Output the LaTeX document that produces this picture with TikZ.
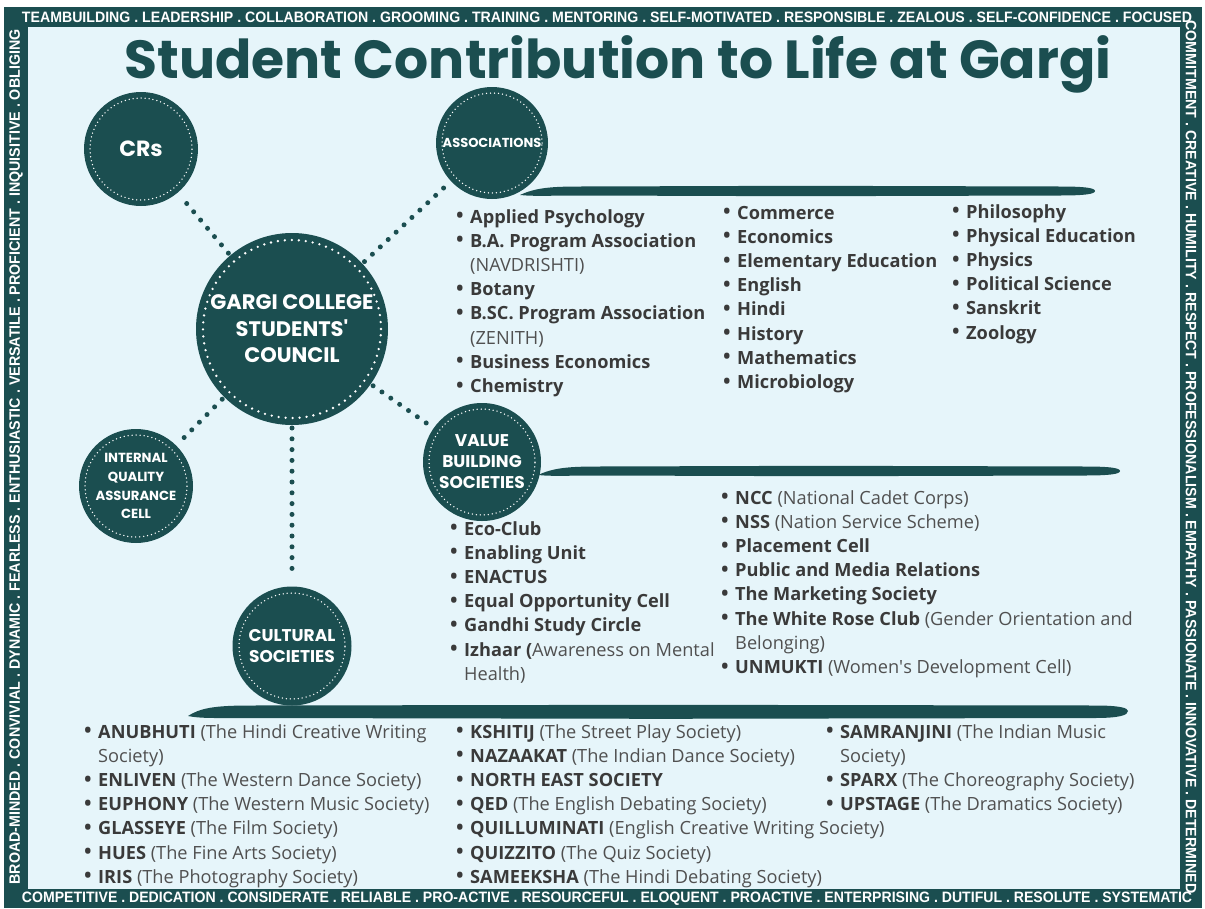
\documentclass[tikz,border=0pt]{standalone}
\usepackage{fontspec}
\setmainfont{Open Sans}
\newfontfamily\headfont{Poppins}
\newfontfamily\bandfont{Liberation Sans}

\definecolor{gteal}{RGB}{27,78,80}
\definecolor{bgl}{RGB}{230,245,250}
\definecolor{txtd}{RGB}{58,58,58}
\definecolor{txtl}{RGB}{80,80,80}

\newcommand\gnm[1]{{\bfseries\color{txtd}#1}}
\newcommand\gds[1]{{\color{txtl}#1}}
\newcommand\gbul{\makebox[15pt][l]{\color{txtd}\raisebox{-0.09em}{\scalebox{1.4}{•}}}}

\begin{document}
\begin{tikzpicture}[x=1pt,y=-1pt,
  hub/.style={circle, fill=gteal, inner sep=0pt, outer sep=0pt, text=white, align=center},
  link/.style={gteal, line width=5pt, line cap=round, dash pattern=on 0pt off 10.8pt, shorten <=3pt, shorten >=8pt},
  ring/.style={white, line width=1.5pt, line cap=round, dash pattern=on 0pt off 4pt},
  bigring/.style={white, line width=2.6pt, line cap=round, dash pattern=on 0pt off 7pt},
  brush/.style={fill=gteal},
  band/.style={text=white, inner sep=0pt, font=\bandfont\bfseries},
  lst/.style={anchor=base west, inner sep=0pt, font=\fontsize{18.2}{24.2}\selectfont}]

\useasboundingbox (0,0) rectangle (1205,908);
\fill[white] (0,0) rectangle (1205,908);
\fill[gteal] (4,7) rectangle (1202,908);
\fill[bgl] (28,27) rectangle (1180,889);

% border words
\node[band] (topband) at (607,17.5) {\resizebox{1170pt}{10.5pt}{TEAMBUILDING . LEADERSHIP . COLLABORATION . GROOMING . TRAINING . MENTORING . SELF-MOTIVATED . RESPONSIBLE . ZEALOUS . SELF-CONFIDENCE . FOCUSED}};
\node[band] (botband) at (607,899) {\resizebox{1170pt}{10.5pt}{COMPETITIVE . DEDICATION . CONSIDERATE . RELIABLE . PRO-ACTIVE . RESOURCEFUL . ELOQUENT . PROACTIVE . ENTERPRISING . DUTIFUL . RESOLUTE . SYSTEMATIC}};
\node[band, rotate=90] (leftband) at (16,457) {\resizebox{855pt}{10.5pt}{BROAD-MINDED . CONVIVIAL . DYNAMIC . FEARLESS . ENTHUSIASTIC . VERSATILE . PROFICIENT . INQUISITIVE . OBLIGING}};
\node[band, rotate=-90] (rightband) at (1191,457) {\resizebox{873pt}{10.5pt}{COMMITMENT . CREATIVE . HUMILITY . RESPECT . PROFESSIONALISM . EMPATHY . PASSIONATE . INNOVATIVE . DETERMINED}};

% title
\node[anchor=base, inner sep=0pt, text=gteal, font=\headfont\bfseries\fontsize{56}{60}\selectfont] (title) at (618,78) {\resizebox{987pt}{!}{Student Contribution to Life at Gargi}};

% brush strokes
\fill[brush] (520,195) .. controls (535,188) and (550,186.5) .. (580,186.5) -- (800,185.8) -- (1060,186.5) .. controls (1085,186.5) and (1095,188) .. (1095,191) .. controls (1095,194) and (1085,195.5) .. (1060,195.5) -- (800,196.2) -- (580,195.5) .. controls (550,195.5) and (535,196.5) .. (520,195) -- cycle;
\fill[brush] (538,475) .. controls (553,468) and (568,466.5) .. (598,466.5) -- (820,465.8) -- (1085,466.5) .. controls (1110,466.5) and (1120,468) .. (1120,471) .. controls (1120,474) and (1110,475.5) .. (1085,475.5) -- (820,476.2) -- (598,475.5) .. controls (568,475.5) and (553,476.5) .. (538,475) -- cycle;
\fill[brush] (188,716) .. controls (200,708) and (215,705.5) .. (250,705.5) -- (660,704.8) -- (1095,705.5) .. controls (1120,705.5) and (1128,708) .. (1128,711) .. controls (1128,715) and (1120,718) .. (1095,718) -- (660,718.8) -- (250,718) .. controls (215,718) and (200,718.5) .. (188,716) -- cycle;

% hubs
\node[hub, minimum size=192pt, font=\headfont\bfseries\fontsize{21}{26.5}\selectfont] (council) at (292,329) {GARGI COLLEGE\\STUDENTS\textquotesingle\\COUNCIL};
\node[hub, minimum size=114pt, font=\headfont\bfseries\fontsize{22}{26}\selectfont] (crs) at (141,149) {CRs};
\node[hub, minimum size=112pt, font=\headfont\bfseries\fontsize{13}{15}\selectfont] (assoc) at (492,143) {ASSOCIATIONS};
\node[hub, minimum size=114pt, font=\headfont\bfseries\fontsize{13.2}{18.8}\selectfont] (iqac) at (136,486) {INTERNAL\\QUALITY\\ASSURANCE\\CELL};
\node[hub, minimum size=118pt, font=\headfont\bfseries\fontsize{17}{21}\selectfont] (vbs) at (482,462) {VALUE\\BUILDING\\SOCIETIES};
\node[hub, minimum size=119pt, font=\headfont\bfseries\fontsize{17}{21}\selectfont] (cult) at (292,646) {CULTURAL\\SOCIETIES};

\draw[bigring] (council.center) circle[radius=89pt];
\draw[ring] (crs.center) circle[radius=51pt];
\draw[ring] (assoc.center) circle[radius=50pt];
\draw[ring] (iqac.center) circle[radius=51pt];
\draw[ring] (vbs.center) circle[radius=53pt];
\draw[ring] (cult.center) circle[radius=53pt];

% connectors
\draw[link] (council) -- (crs);
\draw[link] (council) -- (assoc);
\draw[link] (council) -- (iqac);
\draw[link] (council) -- (vbs);
\draw[link] (council) -- (cult);

% associations lists
\node[lst] (a1) at (455,223) {\begin{tabular}[t]{@{}l@{}l@{}}
\gbul & \gnm{Applied Psychology}\\
\gbul & \gnm{B.A. Program Association}\\
 & \gds{(NAVDRISHTI)}\\
\gbul & \gnm{Botany}\\
\gbul & \gnm{B.SC. Program Association}\\
 & \gds{(ZENITH)}\\
\gbul & \gnm{Business Economics}\\
\gbul & \gnm{Chemistry}
\end{tabular}};
\node[lst] (a2) at (722,219) {\begin{tabular}[t]{@{}l@{}l@{}}
\gbul & \gnm{Commerce}\\
\gbul & \gnm{Economics}\\
\gbul & \gnm{Elementary Education}\\
\gbul & \gnm{English}\\
\gbul & \gnm{Hindi}\\
\gbul & \gnm{History}\\
\gbul & \gnm{Mathematics}\\
\gbul & \gnm{Microbiology}
\end{tabular}};
\node[lst] (a3) at (951,218) {\begin{tabular}[t]{@{}l@{}l@{}}
\gbul & \gnm{Philosophy}\\
\gbul & \gnm{Physical Education}\\
\gbul & \gnm{Physics}\\
\gbul & \gnm{Political Science}\\
\gbul & \gnm{Sanskrit}\\
\gbul & \gnm{Zoology}
\end{tabular}};

% value building lists
\node[lst] (v1) at (449,535) {\begin{tabular}[t]{@{}l@{}l@{}}
\gbul & \gnm{Eco-Club}\\
\gbul & \gnm{Enabling Unit}\\
\gbul & \gnm{ENACTUS}\\
\gbul & \gnm{Equal Opportunity Cell}\\
\gbul & \gnm{Gandhi Study Circle}\\
\gbul & \gnm{Izhaar (}\gds{Awareness on Mental}\\
 & \gds{Health)}
\end{tabular}};
\node[lst] (v2) at (720,504) {\begin{tabular}[t]{@{}l@{}l@{}}
\gbul & \gnm{NCC} \gds{(National Cadet Corps)}\\
\gbul & \gnm{NSS} \gds{(Nation Service Scheme)}\\
\gbul & \gnm{Placement Cell}\\
\gbul & \gnm{Public and Media Relations}\\
\gbul & \gnm{The Marketing Society}\\
\gbul & \gnm{The White Rose Club} \gds{(Gender Orientation and}\\
 & \gds{Belonging)}\\
\gbul & \gnm{UNMUKTI} \gds{(Women\textquotesingle s Development Cell)}
\end{tabular}};

% cultural lists
\node[lst] (c1) at (83,738) {\begin{tabular}[t]{@{}l@{}l@{}}
\gbul & \gnm{ANUBHUTI} \gds{(The Hindi Creative Writing}\\
 & \gds{Society)}\\
\gbul & \gnm{ENLIVEN} \gds{(The Western Dance Society)}\\
\gbul & \gnm{EUPHONY} \gds{(The Western Music Society)}\\
\gbul & \gnm{GLASSEYE} \gds{(The Film Society)}\\
\gbul & \gnm{HUES} \gds{(The Fine Arts Society)}\\
\gbul & \gnm{IRIS} \gds{(The Photography Society)}
\end{tabular}};
\node[lst] (c2) at (455,738) {\begin{tabular}[t]{@{}l@{}l@{}}
\gbul & \gnm{KSHITIJ} \gds{(The Street Play Society)}\\
\gbul & \gnm{NAZAAKAT} \gds{(The Indian Dance Society)}\\
\gbul & \gnm{NORTH EAST SOCIETY}\\
\gbul & \gnm{QED} \gds{(The English Debating Society)}\\
\gbul & \gnm{QUILLUMINATI} \gds{(English Creative Writing Society)}\\
\gbul & \gnm{QUIZZITO} \gds{(The Quiz Society)}\\
\gbul & \gnm{SAMEEKSHA} \gds{(The Hindi Debating Society)}
\end{tabular}};
\node[lst] (c3) at (825,738) {\begin{tabular}[t]{@{}l@{}l@{}}
\gbul & \gnm{SAMRANJINI} \gds{(The Indian Music}\\
 & \gds{Society)}\\
\gbul & \gnm{SPARX} \gds{(The Choreography Society)}\\
\gbul & \gnm{UPSTAGE} \gds{(The Dramatics Society)}
\end{tabular}};
\end{tikzpicture}
\end{document}
